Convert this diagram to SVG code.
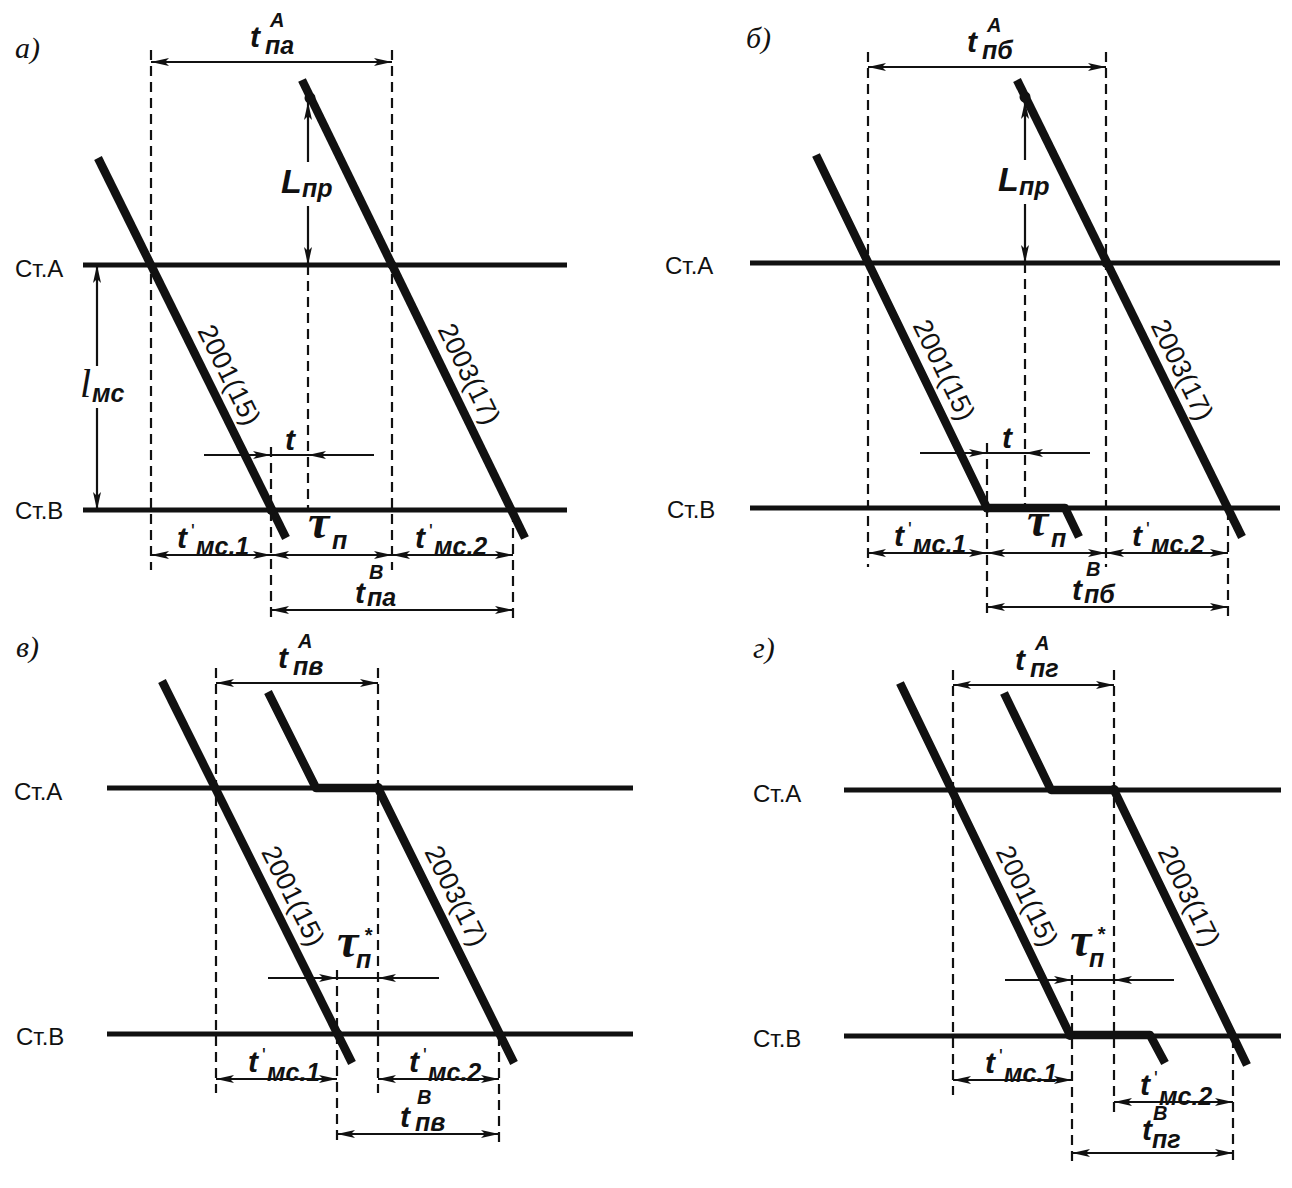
<svg xmlns="http://www.w3.org/2000/svg" width="1292" height="1188" viewBox="0 0 1292 1188">
<defs>
<marker id="ah" viewBox="0 0 18 8" refX="18" refY="4" markerWidth="18" markerHeight="8" markerUnits="userSpaceOnUse" orient="auto-start-reverse"><path d="M0,0 L18,4 L0,8 L4,4 z" fill="#111"/></marker>
</defs>
<style>
.st{stroke:#111;stroke-width:5;fill:none}
.tr{stroke:#111;stroke-width:8.5;fill:none;stroke-linejoin:round}
.ds{stroke:#111;stroke-width:2.2;stroke-dasharray:10 6;fill:none}
.dm{stroke:#111;stroke-width:2.2;fill:none}
.a2{marker-start:url(#ah);marker-end:url(#ah)}
.a1{marker-end:url(#ah)}
.dot{fill:#111}
text{font-family:"Liberation Sans",Arial,sans-serif;fill:#111}
.sn{font-size:24px}
.nm{font-size:27px}
.lb{font-style:italic;font-weight:bold;font-size:30px}
.sb{font-style:italic;font-weight:bold;font-size:25px}
.sp{font-style:italic;font-weight:bold;font-size:20px}
.pr{font-style:normal;font-weight:normal;font-size:20px}
.tau{font-family:"Liberation Serif","Times New Roman",serif;font-style:italic;font-weight:bold;font-size:48px}
.ll{font-family:"Liberation Serif","Times New Roman",serif;font-style:italic;font-weight:normal;font-size:40px}
.pl{font-family:"Liberation Serif","Times New Roman",serif;font-style:italic;font-size:30px}
</style>

<!-- Panel а -->
<g id="panel-a">
<text class="pl" x="15" y="58">а)</text>
<g id="a-stations">
<path class="st" d="M83 265H567M83 510H567"/>
<text class="sn" x="15" y="277">Ст.А</text>
<text class="sn" x="15" y="519">Ст.В</text>
</g>
<g id="a-connectors">
<path class="ds" d="M151 50V570M392 50V570M271 447V620M308 265V510M513 512V620"/>
<path class="dm a2" d="M151 62H392"/>
<path class="dm a1" d="M308 162V102"/>
<path class="dm a1" d="M308 206V265"/>
<path class="dm a1" d="M97 366V265"/>
<path class="dm a1" d="M97 408V510"/>
<path class="dm a1" d="M204 455H271"/>
<path class="dm" d="M271 455H308"/>
<path class="dm a1" d="M374 455H308"/>
<path class="dm a2" d="M151 555H271"/>
<path class="dm a2" d="M271 555H392"/>
<path class="dm a2" d="M392 555H513"/>
<path class="dm a2" d="M271 610H513"/>
</g>
<g id="a-train-2001">
<path class="tr" d="M98 158L286 538"/>
<circle class="dot" cx="271" cy="510" r="4.5"/>
<text class="nm" transform="translate(229 375) rotate(63.7)" text-anchor="middle" dominant-baseline="central">2001(15)</text>
</g>
<g id="a-train-2003">
<path class="tr" d="M302 80L525 538"/>
<circle class="dot" cx="310" cy="98" r="5.5"/>
<circle class="dot" cx="392" cy="265" r="4.5"/>
<text class="nm" transform="translate(469 374) rotate(64)" text-anchor="middle" dominant-baseline="central">2003(17)</text>
</g>
<g id="a-labels">
<text class="lb"><tspan x="250" y="47">t</tspan><tspan class="sp" x="270" y="27">A</tspan><tspan class="sb" x="265" y="54">па</tspan></text>
<text class="lb"><tspan x="281" y="193" font-size="34">L</tspan><tspan class="sb" x="302" y="197">пр</tspan></text>
<text class="lb"><tspan class="ll" x="80" y="397">l</tspan><tspan class="sb" x="92" y="402">мс</tspan></text>
<text class="lb" x="285" y="450">t</text>
<text class="lb"><tspan x="177" y="548">t</tspan><tspan class="pr" x="191" y="538">'</tspan><tspan class="sb" x="196" y="555">мс.1</tspan></text>
<text class="lb"><tspan class="tau" x="308" y="538">τ</tspan><tspan class="sb" x="332" y="549">п</tspan></text>
<text class="lb"><tspan x="415" y="548">t</tspan><tspan class="pr" x="429" y="538">'</tspan><tspan class="sb" x="434" y="555">мс.2</tspan></text>
<text class="lb"><tspan x="355" y="603">t</tspan><tspan class="sp" x="369" y="579">B</tspan><tspan class="sb" x="367" y="606">па</tspan></text>
</g>
</g>

<!-- Panel б -->
<g id="panel-b">
<text class="pl" x="746" y="48">б)</text>
<g id="b-stations">
<path class="st" d="M750 263H1280M750 508H1280"/>
<text class="sn" x="665" y="274">Ст.А</text>
<text class="sn" x="667" y="518">Ст.В</text>
</g>
<g id="b-connectors">
<path class="ds" d="M868 52V567M1106 52V567M987 443V617M1025 263V508M1228 510V617"/>
<path class="dm a2" d="M868 67H1106"/>
<path class="dm a1" d="M1025 160V101"/>
<path class="dm a1" d="M1025 204V263"/>
<path class="dm a1" d="M920 453H987"/>
<path class="dm" d="M987 453H1025"/>
<path class="dm a1" d="M1090 453H1025"/>
<path class="dm a2" d="M868 553H987"/>
<path class="dm a2" d="M987 553H1106"/>
<path class="dm a2" d="M1106 553H1228"/>
<path class="dm a2" d="M987 607H1228"/>
</g>
<g id="b-train-2001">
<path class="tr" d="M816 155L987 508H1065L1079 537"/>
<circle class="dot" cx="987" cy="508" r="4.5"/>
<text class="nm" transform="translate(944 370) rotate(64.1)" text-anchor="middle" dominant-baseline="central">2001(15)</text>
</g>
<g id="b-train-2003">
<path class="tr" d="M1017 80L1242 537"/>
<circle class="dot" cx="1025" cy="97" r="5.5"/>
<circle class="dot" cx="1106" cy="263" r="4.5"/>
<text class="nm" transform="translate(1182 370) rotate(64)" text-anchor="middle" dominant-baseline="central">2003(17)</text>
</g>
<g id="b-labels">
<text class="lb"><tspan x="967" y="52">t</tspan><tspan class="sp" x="987" y="32">A</tspan><tspan class="sb" x="982" y="59">пб</tspan></text>
<text class="lb"><tspan x="998" y="191" font-size="34">L</tspan><tspan class="sb" x="1019" y="195">пр</tspan></text>
<text class="lb" x="1002" y="448">t</text>
<text class="lb"><tspan x="894" y="546">t</tspan><tspan class="pr" x="908" y="536">'</tspan><tspan class="sb" x="913" y="553">мс.1</tspan></text>
<text class="lb"><tspan class="tau" x="1027" y="536">τ</tspan><tspan class="sb" x="1051" y="547">п</tspan></text>
<text class="lb"><tspan x="1132" y="546">t</tspan><tspan class="pr" x="1146" y="536">'</tspan><tspan class="sb" x="1151" y="553">мс.2</tspan></text>
<text class="lb"><tspan x="1072" y="600">t</tspan><tspan class="sp" x="1086" y="576">B</tspan><tspan class="sb" x="1084" y="603">пб</tspan></text>
</g>
</g>

<!-- Panel в -->
<g id="panel-v">
<text class="pl" x="16" y="657">в)</text>
<g id="v-stations">
<path class="st" d="M107 788H633M107 1034H633"/>
<text class="sn" x="14" y="800">Ст.А</text>
<text class="sn" x="16" y="1045">Ст.В</text>
</g>
<g id="v-connectors">
<path class="ds" d="M216 668V1093M378 668V1093M337 970V1143M499 1036V1143"/>
<path class="dm a2" d="M216 683H378"/>
<path class="dm a1" d="M268 978H337"/>
<path class="dm" d="M337 978H378"/>
<path class="dm a1" d="M439 978H378"/>
<path class="dm a2" d="M216 1079H337"/>
<path class="dm a2" d="M378 1079H499"/>
<path class="dm a2" d="M337 1134H499"/>
</g>
<g id="v-train-2001">
<path class="tr" d="M162 681L352 1063"/>
<circle class="dot" cx="338" cy="1034" r="4.5"/>
<text class="nm" transform="translate(293 896) rotate(63.4)" text-anchor="middle" dominant-baseline="central">2001(15)</text>
</g>
<g id="v-train-2003">
<path class="tr" d="M268 692L316 788H378L514 1063"/>
<circle class="dot" cx="378" cy="788" r="5"/>
<text class="nm" transform="translate(456 896) rotate(63.6)" text-anchor="middle" dominant-baseline="central">2003(17)</text>
</g>
<g id="v-labels">
<text class="lb"><tspan x="278" y="668">t</tspan><tspan class="sp" x="298" y="648">A</tspan><tspan class="sb" x="293" y="675">пв</tspan></text>
<text class="lb"><tspan class="tau" x="337" y="957">τ</tspan><tspan class="sp" x="364" y="942">*</tspan><tspan class="sb" x="356" y="968">п</tspan></text>
<text class="lb"><tspan x="248" y="1072">t</tspan><tspan class="pr" x="262" y="1062">'</tspan><tspan class="sb" x="267" y="1081">мс.1</tspan></text>
<text class="lb"><tspan x="409" y="1072">t</tspan><tspan class="pr" x="423" y="1062">'</tspan><tspan class="sb" x="428" y="1081">мс.2</tspan></text>
<text class="lb"><tspan x="400" y="1127">t</tspan><tspan class="sp" x="417" y="1104">B</tspan><tspan class="sb" x="415" y="1131">пв</tspan></text>
</g>
</g>

<!-- Panel г -->
<g id="panel-g">
<text class="pl" x="753" y="658">г)</text>
<g id="g-stations">
<path class="st" d="M844 790H1281M844 1036H1281"/>
<text class="sn" x="753" y="802">Ст.А</text>
<text class="sn" x="753" y="1047">Ст.В</text>
</g>
<g id="g-connectors">
<path class="ds" d="M953 670V1095M1114 670V1113M1072 975V1165M1233 1038V1165"/>
<path class="dm a2" d="M953 685H1114"/>
<path class="dm a1" d="M1005 980H1072"/>
<path class="dm" d="M1072 980H1114"/>
<path class="dm a1" d="M1174 980H1114"/>
<path class="dm a2" d="M953 1080H1072"/>
<path class="dm a2" d="M1114 1102H1233"/>
<path class="dm a2" d="M1072 1153H1233"/>
</g>
<g id="g-train-2001">
<path class="tr" d="M900 683L1070 1035H1150L1165 1063"/>
<circle class="dot" cx="1070" cy="1035" r="5"/>
<text class="nm" transform="translate(1027 896) rotate(64.2)" text-anchor="middle" dominant-baseline="central">2001(15)</text>
</g>
<g id="g-train-2003">
<path class="tr" d="M1004 693L1051 790H1114L1247 1065"/>
<circle class="dot" cx="1114" cy="790" r="5"/>
<text class="nm" transform="translate(1189 896) rotate(64.2)" text-anchor="middle" dominant-baseline="central">2003(17)</text>
</g>
<g id="g-labels">
<text class="lb"><tspan x="1015" y="670">t</tspan><tspan class="sp" x="1035" y="650">A</tspan><tspan class="sb" x="1030" y="677">пг</tspan></text>
<text class="lb"><tspan class="tau" x="1070" y="956">τ</tspan><tspan class="sp" x="1097" y="941">*</tspan><tspan class="sb" x="1089" y="967">п</tspan></text>
<text class="lb"><tspan x="985" y="1073">t</tspan><tspan class="pr" x="999" y="1063">'</tspan><tspan class="sb" x="1004" y="1082">мс.1</tspan></text>
<text class="lb"><tspan x="1140" y="1095">t</tspan><tspan class="pr" x="1154" y="1085">'</tspan><tspan class="sb" x="1159" y="1105">мс.2</tspan></text>
<text class="lb"><tspan x="1142" y="1140">t</tspan><tspan class="sp" x="1153" y="1120">B</tspan><tspan class="sb" x="1152" y="1148">пг</tspan></text>
</g>
</g>
</svg>
